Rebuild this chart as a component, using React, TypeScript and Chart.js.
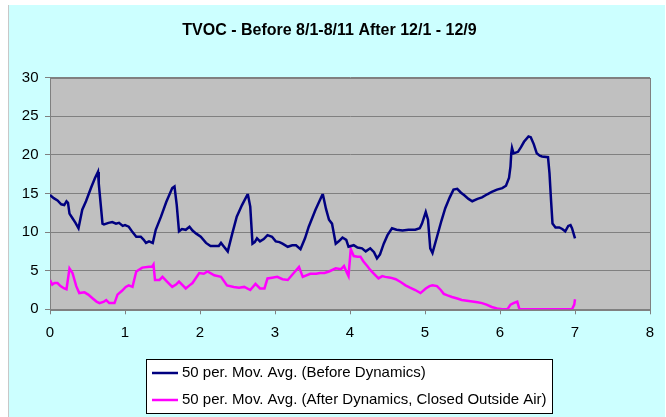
import React, { useEffect, useRef } from "react";
import { Chart, registerables } from "chart.js";

Chart.register(...registerables);

const TITLE = "TVOC - Before 8/1-8/11 After 12/1 - 12/9";
const LABEL_BEFORE = "50 per. Mov. Avg. (Before Dynamics)";
const LABEL_AFTER = "50 per. Mov. Avg. (After Dynamics, Closed Outside Air)";

const X_TICKS = [0, 1, 2, 3, 4, 5, 6, 7, 8];
const Y_TICKS = [0, 5, 10, 15, 20, 25, 30];

const beforeX = [
  0.0, 0.05, 0.1, 0.15, 0.19, 0.22, 0.24, 0.26, 0.3, 0.34, 0.38, 0.43, 0.48, 0.55, 0.6, 0.64, 0.65, 0.7, 0.72,
  0.78, 0.83, 0.88, 0.92, 0.97, 1.0, 1.05, 1.1, 1.15, 1.21, 1.25, 1.28, 1.32, 1.37, 1.41, 1.48, 1.55, 1.63, 1.66,
  1.69, 1.72, 1.76, 1.81, 1.86, 1.9, 1.95, 2.01, 2.08, 2.14, 2.2, 2.25, 2.28, 2.32, 2.37, 2.43, 2.49, 2.56, 2.63,
  2.64, 2.67, 2.7, 2.73, 2.76, 2.8, 2.85, 2.9, 2.96, 3.01, 3.06, 3.1, 3.17, 3.23, 3.28, 3.34, 3.4, 3.45, 3.54,
  3.63, 3.64, 3.68, 3.72, 3.76, 3.81, 3.85, 3.9, 3.95, 3.98, 4.05, 4.1, 4.16, 4.21, 4.27, 4.32, 4.36, 4.4, 4.45,
  4.5, 4.56, 4.62, 4.7, 4.78, 4.87, 4.93, 4.96, 5.01, 5.04, 5.07, 5.1, 5.16, 5.22, 5.27, 5.33, 5.38, 5.43, 5.48,
  5.52, 5.58, 5.63, 5.7, 5.76, 5.83, 5.89, 5.96, 6.03, 6.08, 6.12, 6.14, 6.15, 6.16, 6.18, 6.21, 6.24, 6.28, 6.32,
  6.38, 6.41, 6.45, 6.49, 6.53, 6.56, 6.64, 6.66, 6.68, 6.7, 6.74, 6.79, 6.83, 6.87, 6.91, 6.94, 6.96, 7.0,
];
const beforeY = [
  14.8, 14.4, 14.1, 13.6, 13.5, 14.0, 13.8, 12.4, 11.8, 11.2, 10.5, 12.9, 14.0, 15.8, 17.0, 17.8, 16.3, 11.1, 11.0,
  11.2, 11.3, 11.1, 11.2, 10.8, 10.9, 10.7, 10.0, 9.4, 9.4, 9.0, 8.6, 8.8, 8.6, 10.3, 12.0, 13.9, 15.7, 15.9,
  13.5, 10.1, 10.4, 10.3, 10.7, 10.2, 9.8, 9.4, 8.6, 8.2, 8.2, 8.2, 8.6, 8.1, 7.5, 9.8, 12.0, 13.5, 14.8,
  14.8, 13.3, 8.5, 8.7, 9.2, 8.8, 9.1, 9.6, 9.4, 8.8, 8.7, 8.5, 8.1, 8.3, 8.3, 7.8, 9.2, 10.7, 12.9,
  14.8, 14.8, 13.0, 11.6, 11.1, 8.5, 8.8, 9.3, 9.0, 8.1, 8.3, 8.0, 7.9, 7.5, 7.9, 7.4, 6.6, 7.1, 8.5,
  9.6, 10.5, 10.3, 10.2, 10.3, 10.3, 10.5, 11.1, 12.6, 11.6, 7.9, 7.3, 9.4, 11.5, 13.1, 14.5, 15.5, 15.6, 15.1,
  14.8, 14.3, 14.0, 14.3, 14.5, 14.9, 15.2, 15.5, 15.7, 16.0, 17.0, 18.5, 20.2, 20.9, 20.2, 20.3, 20.4, 21.0, 21.7,
  22.4, 22.3, 21.4, 20.2, 19.9, 19.8, 19.7, 17.6, 14.2, 11.1, 10.6, 10.6, 10.4, 10.1, 10.8, 10.9, 10.5, 9.2,
];

const afterX = [
  0.0, 0.03, 0.06, 0.1, 0.14, 0.19, 0.22, 0.26, 0.3, 0.35, 0.39, 0.46, 0.51, 0.57, 0.62, 0.66, 0.72, 0.75, 0.79,
  0.86, 0.9, 0.96, 1.01, 1.05, 1.1, 1.15, 1.23, 1.32, 1.36, 1.38, 1.4, 1.46, 1.5, 1.56, 1.63, 1.68, 1.72, 1.77,
  1.81, 1.86, 1.9, 1.99, 2.05, 2.1, 2.19, 2.28, 2.36, 2.45, 2.52, 2.59, 2.67, 2.74, 2.8, 2.86, 2.9, 2.96, 3.03,
  3.1, 3.17, 3.25, 3.32, 3.37, 3.47, 3.55, 3.6, 3.66, 3.72, 3.81, 3.88, 3.92, 3.96, 3.98, 4.01, 4.05, 4.1, 4.14,
  4.18, 4.23, 4.27, 4.33, 4.38, 4.43, 4.47, 4.54, 4.61, 4.68, 4.74, 4.8, 4.87, 4.94, 5.01, 5.06, 5.1, 5.16, 5.21,
  5.25, 5.3, 5.36, 5.43, 5.49, 5.56, 5.63, 5.7, 5.76, 5.82, 5.89, 5.96, 6.03, 6.1, 6.14, 6.18, 6.23, 6.26, 6.5,
  6.8, 6.96, 6.99, 7.0,
];
const afterY = [
  3.8, 3.2, 3.4, 3.4, 3.0, 2.7, 2.6, 5.3, 4.7, 3.0, 2.1, 2.2, 1.9, 1.4, 1.0, 0.8, 1.0, 1.2, 0.8,
  0.8, 1.9, 2.4, 2.9, 3.1, 2.9, 4.9, 5.4, 5.5, 5.5, 5.8, 3.8, 3.8, 4.2, 3.6, 2.9, 3.2, 3.6, 3.1,
  2.7, 3.1, 3.4, 4.7, 4.6, 4.9, 4.4, 4.2, 3.1, 2.9, 2.8, 2.9, 2.5, 3.3, 2.7, 2.7, 4.0, 4.1, 4.2,
  3.9, 3.8, 4.7, 5.5, 4.2, 4.6, 4.6, 4.7, 4.7, 4.9, 5.3, 5.2, 5.6, 4.7, 4.3, 7.8, 6.9, 6.8, 6.8,
  6.2, 5.6, 5.1, 4.5, 4.0, 4.3, 4.2, 4.1, 3.9, 3.5, 3.1, 2.8, 2.5, 2.1, 2.7, 3.0, 3.1, 3.0, 2.5,
  2.0, 1.8, 1.6, 1.4, 1.2, 1.1, 1.0, 0.9, 0.8, 0.6, 0.3, 0.1, 0.0, 0.0, 0.6, 0.8, 1.0, 0.0, 0.0,
  0.0, 0.0, 0.6, 1.3,
];

const FONT = "'Liberation Sans', Arial, sans-serif";
const CANVAS_W = 657;
const CANVAS_H = 412;

const plotBgPlugin = {
  id: "plotBg",
  beforeDraw(chart: any) {
    const { ctx, chartArea } = chart;
    ctx.save();
    ctx.fillStyle = "#c0c0c0";
    ctx.fillRect(chartArea.left, chartArea.top, chartArea.right - chartArea.left, chartArea.bottom - chartArea.top);
    ctx.restore();
  },
  beforeDatasetsDraw(chart: any) {
    const { ctx, chartArea } = chart;
    ctx.save();
    ctx.strokeStyle = "#808080";
    ctx.lineWidth = 1;
    ctx.strokeRect(
      Math.round(chartArea.left) + 0.5,
      Math.round(chartArea.top) + 0.5,
      Math.round(chartArea.right - chartArea.left),
      Math.round(chartArea.bottom - chartArea.top)
    );
    ctx.restore();
  },
};

const boxLegendPlugin = {
  id: "boxLegend",
  afterDraw(chart: any) {
    const { ctx } = chart;
    const x0 = 137;
    const y0 = 354;
    const w = 406;
    const h = 54;
    ctx.save();
    ctx.fillStyle = "#ffffff";
    ctx.fillRect(x0, y0, w, h);
    ctx.strokeStyle = "#000000";
    ctx.lineWidth = 1;
    ctx.strokeRect(x0 + 0.5, y0 + 0.5, w, h);
    const items = chart.data.datasets.map((d: any) => ({ label: d.label, color: d.borderColor }));
    items.forEach((it: any, i: number) => {
      const cy = y0 + 14 + i * 27;
      ctx.strokeStyle = it.color;
      ctx.lineWidth = 2.5;
      ctx.beginPath();
      ctx.moveTo(x0 + 6, cy);
      ctx.lineTo(x0 + 32, cy);
      ctx.stroke();
      ctx.fillStyle = "#000000";
      ctx.font = `15px ${FONT}`;
      ctx.textBaseline = "middle";
      ctx.textAlign = "left";
      ctx.fillText(it.label, x0 + 36, cy);
    });
    ctx.restore();
  },
};

export default function App() {
  const ref = useRef<HTMLCanvasElement | null>(null);

  useEffect(() => {
    if (!ref.current) return;
    const toPoints = (xs: number[], ys: number[]) => xs.map((x, i) => ({ x, y: ys[i] }));
    const chart = new Chart(ref.current, {
      type: "line",
      data: {
        datasets: [
          {
            label: LABEL_BEFORE,
            data: toPoints(beforeX, beforeY),
            borderColor: "#000080",
            borderWidth: 2.5,
            pointRadius: 0,
            tension: 0,
            fill: false,
          },
          {
            label: LABEL_AFTER,
            data: toPoints(afterX, afterY),
            borderColor: "#ff00ff",
            borderWidth: 2.5,
            pointRadius: 0,
            tension: 0,
            fill: false,
          },
        ],
      },
      options: {
        animation: false,
        responsive: false,
        devicePixelRatio: 1,
        layout: { padding: { left: 0, right: 15, top: 0, bottom: 0 } },
        plugins: {
          legend: { display: false },
          tooltip: { enabled: false },
          title: {
            display: true,
            text: TITLE,
            color: "#000000",
            font: { family: FONT, size: 16, weight: "bold" },
            padding: { top: 16.4, bottom: 37.1 },
          },
        },
        scales: {
          x: {
            type: "linear",
            min: X_TICKS[0],
            max: X_TICKS[X_TICKS.length - 1],
            afterBuildTicks: (scale: any) => {
              scale.ticks = X_TICKS.map((v) => ({ value: v }));
            },
            afterFit: (scale: any) => {
              scale.height = 107.7;
            },
            ticks: {
              color: "#000000",
              font: { family: FONT, size: 15 },
              padding: 9.7,
              maxRotation: 0,
            },
            grid: {
              drawOnChartArea: false,
              drawTicks: true,
              tickLength: 5,
              color: "#808080",
            },
            border: { display: true, color: "#808080" },
          },
          y: {
            type: "linear",
            min: Y_TICKS[0],
            max: Y_TICKS[Y_TICKS.length - 1],
            afterBuildTicks: (scale: any) => {
              scale.ticks = Y_TICKS.map((v) => ({ value: v }));
            },
            afterFit: (scale: any) => {
              scale.width = 41;
            },
            ticks: {
              color: "#000000",
              font: { family: FONT, size: 15 },
              padding: 6.5,
            },
            grid: {
              drawOnChartArea: true,
              drawTicks: true,
              tickLength: 5,
              color: "#808080",
              lineWidth: 1,
            },
            border: { display: true, color: "#808080" },
          },
        },
      },
      plugins: [plotBgPlugin, boxLegendPlugin],
    });
    return () => chart.destroy();
  }, []);

  return (
    <div
      style={{
        position: "absolute",
        left: 8,
        top: 5,
        width: CANVAS_W,
        height: CANVAS_H,
        background: "#ccffff",
        borderLeft: "1px solid #c8c8c8",
        boxSizing: "border-box",
      }}
    >
      <canvas ref={ref} width={CANVAS_W - 1} height={CANVAS_H} style={{ display: "block" }} />
    </div>
  );
}
